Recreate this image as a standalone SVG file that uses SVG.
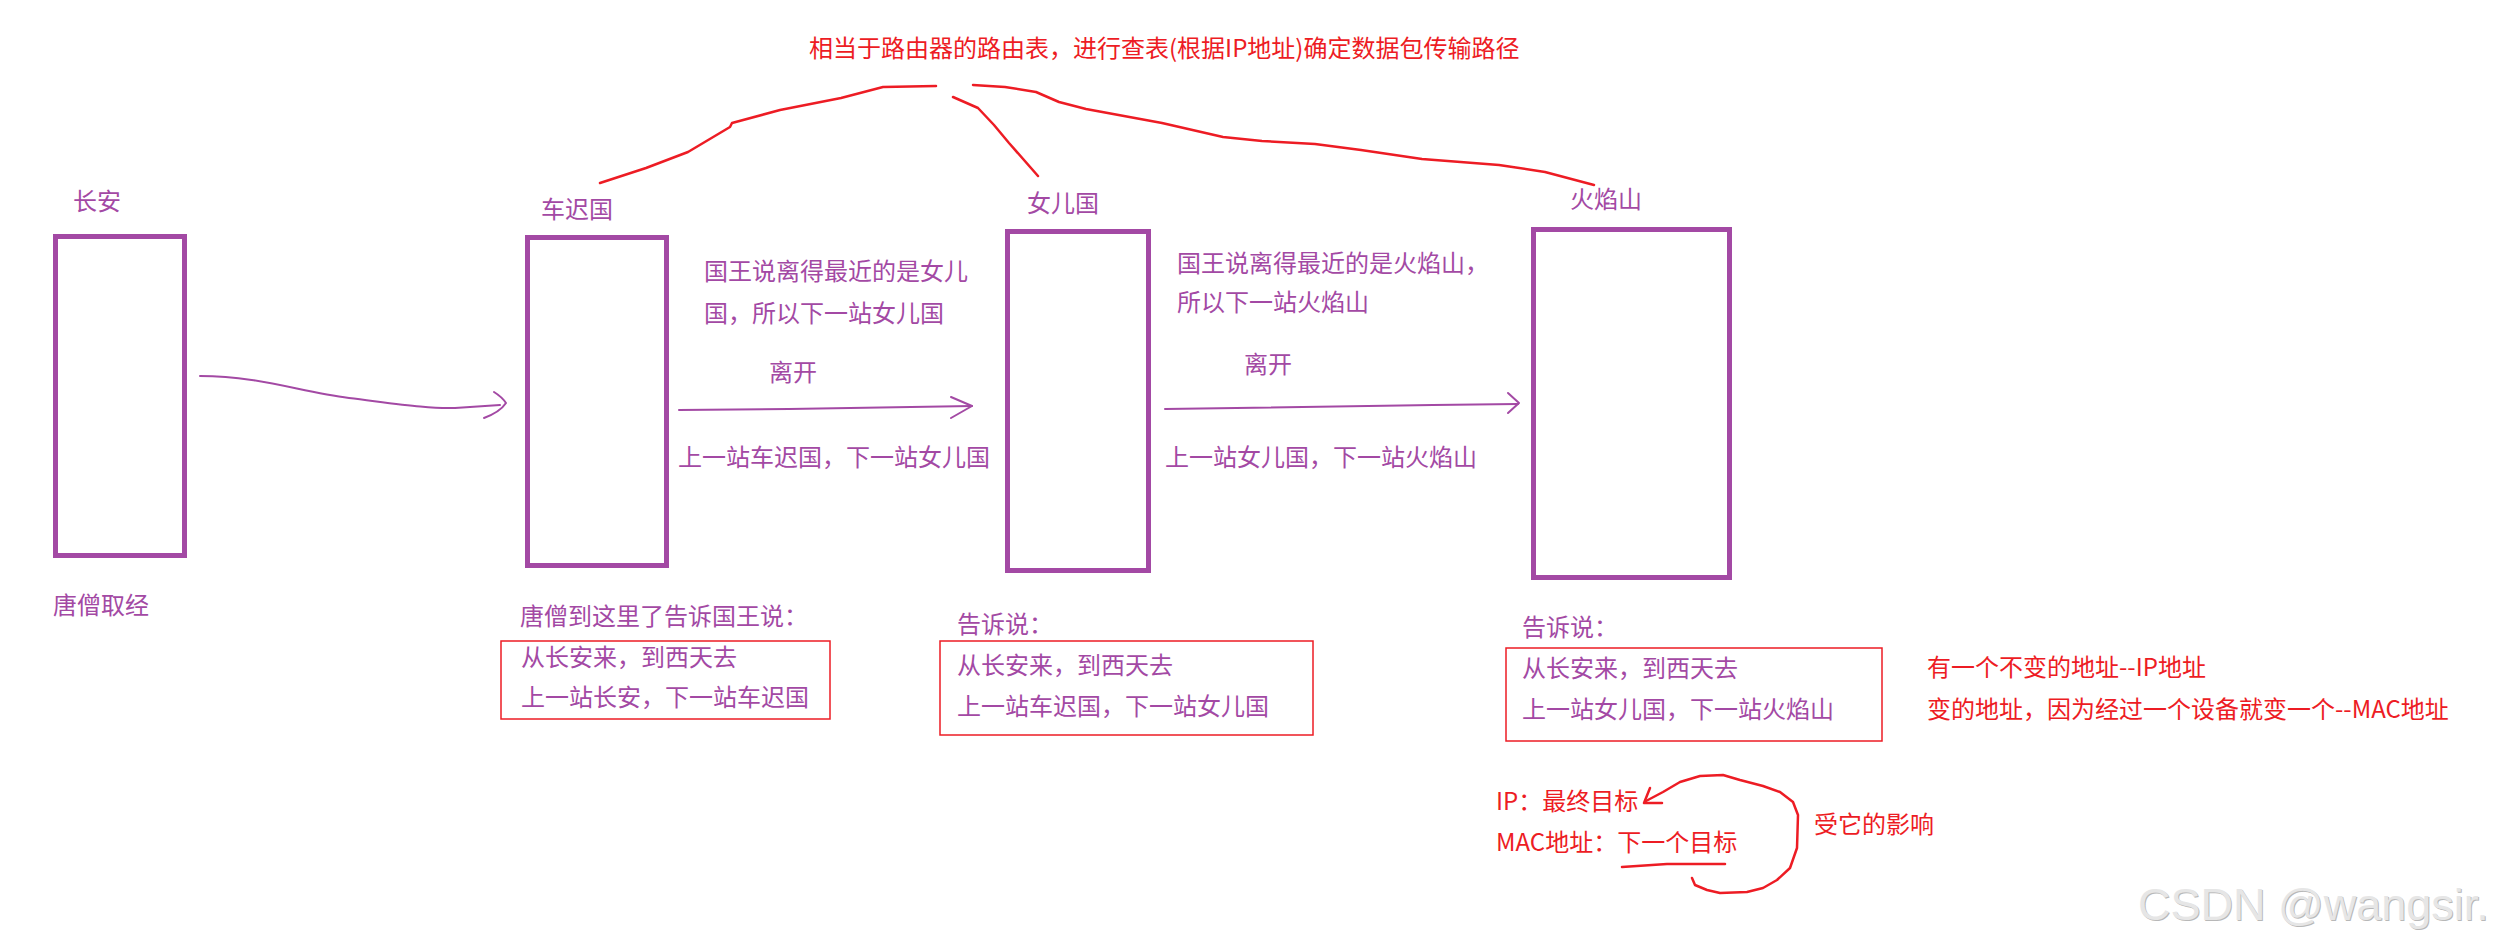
<svg xmlns="http://www.w3.org/2000/svg" width="2494" height="945" viewBox="0 0 2494 945">
<style>
text{font-family:"Noto Sans CJK SC","Microsoft YaHei",sans-serif;font-size:24px}
.p{fill:#a349a4}
.r{fill:#ed1c24}
.box{fill:none;stroke:#a349a4;stroke-width:5}
.rbox{fill:none;stroke:#ed1c24;stroke-width:1.5}
.pl{fill:none;stroke:#a349a4;stroke-width:2;stroke-linecap:round;stroke-linejoin:round}
.rl{fill:none;stroke:#ed1c24;stroke-width:2.5;stroke-linecap:round;stroke-linejoin:round}
.wm{font-family:"Liberation Sans",Arial,sans-serif;font-size:45px}
</style>
<rect width="2494" height="945" fill="#ffffff"/>
<g id="title">
<text class="r" x="809" y="57">相当于路由器的路由表，进行查表(根据IP地址)确定数据包传输路径</text>
</g>
<g id="node-changan">
<text class="p" x="73" y="210">长安</text>
<rect class="box" x="55.5" y="236.5" width="129" height="319"/>
<text class="p" x="53" y="614">唐僧取经</text>
</g>
<g id="node-chechiguo">
<text class="p" x="541" y="218">车迟国</text>
<rect class="box" x="527.5" y="237.5" width="139" height="328"/>
<text class="p" x="520" y="625">唐僧到这里了告诉国王说：</text>
<rect class="rbox" x="501" y="641" width="329" height="78"/>
<text class="p" x="521" y="666">从长安来，到西天去</text>
<text class="p" x="521" y="706">上一站长安，下一站车迟国</text>
</g>
<g id="node-nverguo">
<text class="p" x="1027" y="212">女儿国</text>
<rect class="box" x="1007.5" y="231.5" width="141" height="339"/>
<text class="p" x="957" y="633">告诉说：</text>
<rect class="rbox" x="940" y="641" width="373" height="94"/>
<text class="p" x="957" y="674">从长安来，到西天去</text>
<text class="p" x="957" y="715">上一站车迟国，下一站女儿国</text>
</g>
<g id="node-huoyanshan">
<text class="p" x="1570" y="208">火焰山</text>
<rect class="box" x="1533.5" y="229.5" width="196" height="348"/>
<text class="p" x="1522" y="636">告诉说：</text>
<rect class="rbox" x="1506" y="648" width="376" height="93"/>
<text class="p" x="1522" y="677">从长安来，到西天去</text>
<text class="p" x="1522" y="718">上一站女儿国，下一站火焰山</text>
</g>
<g id="labels-1">
<text class="p" x="704" y="280">国王说离得最近的是女儿</text>
<text class="p" x="704" y="322">国，所以下一站女儿国</text>
<text class="p" x="769" y="381">离开</text>
<text class="p" x="678" y="466">上一站车迟国，下一站女儿国</text>
</g>
<g id="labels-2">
<text class="p" x="1177" y="272">国王说离得最近的是火焰山，</text>
<text class="p" x="1177" y="311">所以下一站火焰山</text>
<text class="p" x="1244" y="373">离开</text>
<text class="p" x="1165" y="466">上一站女儿国，下一站火焰山</text>
</g>
<g id="notes">
<text class="r" x="1927" y="676">有一个不变的地址--IP地址</text>
<text class="r" x="1927" y="718">变的地址，因为经过一个设备就变一个--MAC地址</text>
<text class="r" x="1496" y="810">IP：最终目标</text>
<text class="r" x="1496" y="851">MAC地址：下一个目标</text>
<text class="r" x="1814" y="833">受它的影响</text>
</g>
<g id="connectors">
<path class="pl" d="M200,376 C260,376 300,392 349,398 S430,409 455,408 L500,405"/>
<path class="pl" d="M494,392 Q502,397 506,403 Q500,412 484,418"/>
<path class="pl" d="M679,410 L789,409 L972,406"/>
<path class="pl" d="M951,397 L972,406 L951,418"/>
<path class="pl" d="M1165,409 L1433,405 L1518,404"/>
<path class="pl" d="M1508,393 L1519,403 L1508,413"/>
<path class="rl" d="M600,183 L646,168 L688,152 L730,127 L732,123 L780,110 L841,98 L883,87 L936,86"/>
<path class="rl" d="M953,97 L978,108 L994,125 L1009,143 L1038,176"/>
<path class="rl" d="M973,85 L1005,87 L1036,92 L1059,102 L1086,109 L1162,123 L1223,137 L1262,141 L1315,144 L1361,150 L1422,159 L1499,165 L1545,172 L1594,185"/>
<path class="rl" d="M1650,788 L1644,803 L1662,803"/>
<path class="rl" d="M1646,801 L1663,792 L1680,782 L1700,776 L1723,775 L1740,780 L1763,786 L1780,792 L1793,802 L1798,815 L1797,848 L1790,868 L1777,880 L1763,888 L1747,892 L1720,893 L1707,890 L1695,885 L1692,878"/>
<path class="rl" d="M1622,867 L1667,864 L1725,864"/>
</g>
<g id="watermark">
<text class="wm" x="2139" y="921" fill="#b8b8b8">CSDN @wangsir.</text>
<text class="wm" x="2138" y="920" fill="#e6e6e6">CSDN @wangsir.</text>
</g>
</svg>
